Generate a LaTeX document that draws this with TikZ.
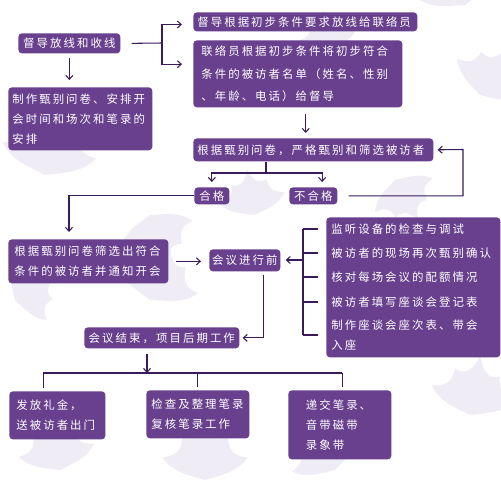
\documentclass[tikz,border=0pt]{standalone}
\usepackage{fontspec}
\usetikzlibrary{arrows.meta,calc,positioning}
\newfontfamily\cjk[LetterSpace=18]{Noto Sans CJK SC}
\definecolor{boxpurple}{RGB}{104,64,142}
\definecolor{linepurple}{RGB}{58,26,88}
\definecolor{leafgray}{RGB}{240,236,245}
\newcommand{\boxfont}{\cjk\fontsize{6.5}{11.4}\selectfont}

\begin{document}
\begin{tikzpicture}[x=0.02cm,y=-0.02cm,
    box/.style={fill=boxpurple,text=white,rounded corners=2pt,anchor=north west,
      inner ysep=0pt,font=\boxfont,align=left},
    item/.style={text=white,anchor=west,inner sep=0pt,font=\boxfont,align=left},
    line/.style={draw=linepurple,line width=0.6pt},
    arr/.style={line,-{Straight Barb[length=2.2pt,width=4pt]}},
    leaf/.pic={\fill[leafgray] (0,0) .. controls (-0.3,0.1) and (-0.7,0.15) .. (-0.95,0.5)
      .. controls (-0.65,0.55) and (-0.55,0.6) .. (-0.5,0.95) .. controls (-0.25,0.85) and (-0.1,1.0) .. (0,1.35)
      .. controls (0.1,1.0) and (0.25,0.85) .. (0.5,0.95) .. controls (0.55,0.6) and (0.65,0.55) .. (0.95,0.5)
      .. controls (0.7,0.15) and (0.3,0.1) .. (0,0) -- cycle;}]
  \useasboundingbox (0,0) rectangle (500,500);
  \fill[white] (0,0) rectangle (500,500);

  % faint ivy leaves behind the chart
  \foreach \lx/\ly/\lr/\ls in {465/5/200/45, 480/95/150/40, 45/175/170/50, 150/215/20/40,
      255/215/190/35, 150/300/160/45, 395/180/30/35, 205/480/180/45, 335/470/210/40,
      470/415/170/45, 60/470/190/40, 15/300/120/35, 440/280/200/35, 330/50/190/30}
    \pic[rotate=\lr,scale=\ls] at (\lx,\ly) {leaf};

  % top part
  \node[box,text width=1.90cm,inner xsep=0.07cm,minimum height=0.40cm,align=center] (sup) at (18,33) {督导放线和收线};
  \node[box,text width=2.72cm,inner xsep=0.08cm,minimum height=1.26cm] (prep) at (8,87)
    {制作甄别问卷、安排开\\会时间和场次和笔录的\\安排};
  \node[box,text width=4.32cm,inner xsep=0.08cm,minimum height=0.38cm] (rel) at (193,12)
    {督导根据初步条件要求放线给联络员};
  \node[box,text width=3.86cm,inner xsep=0.16cm,minimum height=1.34cm,
    font=\cjk\fontsize{6.5}{12.8}\selectfont] (list) at (193,40)
    {联络员根据初步条件将初步符合\\条件的被访者名单（姓名、性别\\、年龄、电话）给督导};
  \node[box,text width=4.64cm,inner xsep=0.08cm,minimum height=0.46cm] (screen) at (193,138)
    {根据甄别问卷，严格甄别和筛选被访者};
  \node[box,text width=0.58cm,inner xsep=0.06cm,minimum height=0.34cm,align=center] (pass) at (194,187) {合格};
  \node[box,text width=0.82cm,inner xsep=0.07cm,minimum height=0.34cm,align=center] (fail) at (289,187) {不合格};

  % middle part
  \node[box,text width=2.96cm,inner xsep=0.12cm,minimum height=0.88cm] (notify) at (8,239)
    {根据甄别问卷筛选出符合\\条件的被访者并通知开会};
  \node[box,text width=1.36cm,inner xsep=0.03cm,minimum height=0.44cm,align=center] (before) at (209,249) {会议进行前};
  \node[box,inner sep=0pt,minimum width=3.48cm,minimum height=2.80cm] (checks) at (326,217) {};
  \node[item] (c1) at (331,229) {监听设备的检查与调试};
  \node[item] (c2) at (331,253) {被访者的现场再次甄别确认};
  \node[item] (c3) at (331,277) {核对每场会议的配额情况};
  \node[item] (c4) at (331,302) {被访者填写座谈会登记表};
  \node[item] (c5) at (331,335) {制作座谈会座次表、带会\\入座};
  \node[box,text width=2.98cm,inner xsep=0.06cm,minimum height=0.42cm,align=center] (end) at (84,327)
    {会议结束，项目后期工作};

  % bottom part
  \node[box,text width=1.64cm,inner xsep=0.14cm,minimum height=0.96cm] (gift) at (9,391)
    {发放礼金，\\送被访者出门};
  \node[box,text width=1.86cm,inner xsep=0.10cm,minimum height=0.96cm] (check) at (146,390)
    {检查及整理笔录\\复核笔录工作};
  \node[box,text width=1.36cm,inner xsep=0.35cm,minimum height=1.38cm] (submit) at (288,390)
    {递交笔录、\\音带磁带\\录象带};

  \coordinate (fork1) at (162,43);
  \coordinate (fork2) at (266,173);
  \coordinate (back) at (463,149.5);
  \coordinate (br) at (303,260);
  \coordinate (fork3) at (147,373);

  % connectors
  \draw[line] ([xshift=0.22cm]sup.east) -- (fork1);
  \draw[arr,shorten >=0.22cm] (fork1) |- ([yshift=-1.5]rel.west);
  \draw[arr,shorten >=0.22cm] (fork1) |- ([yshift=5.5]list.west);
  \draw[arr,shorten <=0.08cm,shorten >=0.14cm] (sup.south) -- (sup.south |- prep.north);
  \draw[arr,shorten <=0.12cm,shorten >=0.10cm] ([xshift=4.5]list.south) -- ([xshift=4.5]list.south |- screen.north);
  \draw[line] (fork2 |- screen.south) -- (fork2);
  \draw[arr,shorten >=0.10cm] (fork2) -| (pass.north);
  \draw[arr,shorten >=0.10cm] (fork2) -| ([xshift=5]fail.north);
  \draw[arr,shorten >=0.08cm] ([xshift=0.22cm]fail.east) -| (back) -- (screen.east);
  \draw[arr,shorten >=0.14cm] (pass.west) -| ([xshift=-11]notify.north);
  \draw[arr,shorten <=0.14cm,shorten >=0.16cm] (notify.east) -- (notify.east -| before.west);
  \draw[line] (br |- c1) -- (br |- c5);
  \foreach \i in {1,...,5}
    \draw[line] (br |- c\i) -- ([xshift=-0.26cm]c\i.west);
  \draw[arr,shorten >=0.10cm] (br) -- (br -| before.east);
  \draw[arr,shorten <=0.06cm,shorten >=0.06cm] ([xshift=10.5]before.south) |- (end.east);
  \draw[arr,shorten <=0.10cm] (end.south -| fork3) -- (fork3);
  \draw[line] ([xshift=-8]gift.north |- fork3) -- ([xshift=1.5]submit.north |- fork3);
  \draw[line,shorten >=0.06cm] ([xshift=-8]gift.north |- fork3) -- ([xshift=-8]gift.north);
  \draw[line,shorten >=0.06cm] (check.north |- fork3) -- (check.north);
  \draw[line,shorten >=0.06cm] ([xshift=1.5]submit.north |- fork3) -- ([xshift=1.5]submit.north);
\end{tikzpicture}
\end{document}
